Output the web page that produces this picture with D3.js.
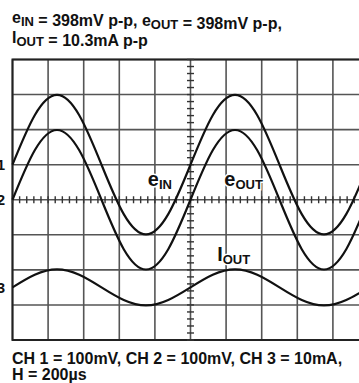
<!DOCTYPE html>
<html>
<head>
<meta charset="utf-8">
<script src="https://cdn.jsdelivr.net/npm/d3@7"></script>
<style>
  html, body { margin: 0; padding: 0; background: #fff; overflow: hidden; }
  text { font-family: "Liberation Sans", Arial, Helvetica, sans-serif; font-weight: bold; fill: #111; }
</style>
</head>
<body>
<div id="chart"></div>
<script>
const width = 359;
const height = 383;

// time base: 200us/div, 10 divisions
const timeUs = [0, 125, 250, 375, 500, 625, 750, 875, 1000, 1125, 1250, 1375, 1500, 1625, 1750, 1875, 2000];
// traces (relative to each channel's ground marker)
const eIn = [0, 141, 199, 141, 0, -141, -199, -141, 0, 141, 199, 141, 0, -141, -199, -141, 0];   // mV
const eOut = [0, 141, 199, 141, 0, -141, -199, -141, 0, 141, 199, 141, 0, -141, -199, -141, 0];  // mV
const iOut = [0, 3.6, 5.15, 3.6, 0, -3.6, -5.15, -3.6, 0, 3.6, 5.15, 3.6, 0, -3.6, -5.15, -3.6, 0]; // mA

const channelNames = ['1', '2', '3'];
const channelOffsetDiv = [1, 0, -2.5];
const channelPerDiv = [100, 100, 10];
const channelData = [eIn, eOut, iOut];

const titleLines = [
    [['e', 'IN'], [' = 398mV p-p, '], ['e', 'OUT'], [' = 398mV p-p,']],
    [['I', 'OUT'], [' = 10.3mA p-p']]
];
const captionLines = ['CH 1 = 100mV, CH 2 = 100mV, CH 3 = 10mA,', 'H = 200\u00b5s'];

const traceLabels = [
    { main: 'e', sub: 'IN', t: 760, div: 0.4 },
    { main: 'e', sub: 'OUT', t: 1190, div: 0.4 },
    { main: 'I', sub: 'OUT', t: 1150, div: -1.75 }
];

const svg = d3.select('#chart')
    .append('svg')
    .attr('width', width)
    .attr('height', height);

const x = d3.scaleLinear().domain([0, 2000]).range([12.5, 368.5]);
const y = d3.scaleLinear().domain([-4, 4]).range([340, 59.5]);

// GRATICULE
const grid = svg.append('g');

grid.selectAll('.vline')
    .data(d3.range(0, 2001, 200))
    .enter()
    .append('line')
    .attr('x1', d => x(d)).attr('x2', d => x(d))
    .attr('y1', y(4)).attr('y2', y(-4))
    .attr('stroke', '#555')
    .attr('stroke-width', 1.6);

grid.selectAll('.hline')
    .data(d3.range(-4, 5))
    .enter()
    .append('line')
    .attr('x1', x(0)).attr('x2', x(2000))
    .attr('y1', d => y(d)).attr('y2', d => y(d))
    .attr('stroke', '#555')
    .attr('stroke-width', 1.6);

grid.append('rect')
    .attr('x', x(0)).attr('y', y(4))
    .attr('width', x(2000) - x(0)).attr('height', y(-4) - y(4))
    .attr('fill', 'none')
    .attr('stroke', '#222')
    .attr('stroke-width', 2);

// minor ticks on the centre axes
grid.selectAll('.xtick')
    .data(d3.range(0, 2001, 40))
    .enter()
    .append('line')
    .attr('x1', d => x(d)).attr('x2', d => x(d))
    .attr('y1', y(0) - 3.5).attr('y2', y(0) + 3.5)
    .attr('stroke', '#333')
    .attr('stroke-width', 1.4);

grid.selectAll('.ytick')
    .data(d3.range(-4, 4.01, 0.2))
    .enter()
    .append('line')
    .attr('x1', x(1000) - 3.5).attr('x2', x(1000) + 3.5)
    .attr('y1', d => y(d)).attr('y2', d => y(d))
    .attr('stroke', '#333')
    .attr('stroke-width', 1.4);

// TRACES
const line = d3.line().curve(d3.curveNatural);

channelData.forEach((vals, c) => {
    const pts = vals.map((v, i) => [x(timeUs[i]), y(channelOffsetDiv[c] + v / channelPerDiv[c])]);
    svg.append('path')
        .attr('d', line(pts))
        .attr('fill', 'none')
        .attr('stroke', '#111')
        .attr('stroke-width', 2.2);
});

// channel ground markers (cut by left edge, as on the scope photo)
svg.selectAll('.chmark')
    .data(channelNames)
    .enter()
    .append('text')
    .attr('x', 5)
    .attr('y', (d, i) => y(channelOffsetDiv[i]))
    .attr('dy', '0.36em')
    .attr('text-anchor', 'end')
    .attr('font-size', 15)
    .text(d => d);

// TRACE LABELS
traceLabels.forEach(l => {
    const t = svg.append('text')
        .attr('x', x(l.t))
        .attr('y', y(l.div))
        .attr('font-size', 20)
        .attr('stroke', '#fff')
        .attr('stroke-width', 3)
        .attr('paint-order', 'stroke');
    t.append('tspan').text(l.main);
    t.append('tspan').attr('font-size', 13).attr('dy', 3).text(l.sub);
});

// TITLE
titleLines.forEach((parts, li) => {
    const t = svg.append('text')
        .attr('x', 12)
        .attr('y', 23 + li * 20)
        .attr('font-size', 16);
    parts.forEach(p => {
        if (p.length === 2) {
            t.append('tspan').text(p[0]);
            t.append('tspan').attr('font-size', 13).attr('dy', 3).text(p[1]);
            t.append('tspan').attr('dy', -3).text('');
        } else {
            t.append('tspan').text(p[0]);
        }
    });
});

// CAPTION
svg.selectAll('.caption')
    .data(captionLines)
    .enter()
    .append('text')
    .attr('x', 12)
    .attr('y', (d, i) => 364 + i * 16)
    .attr('font-size', 16)
    .text(d => d);
</script>
</body>
</html>
